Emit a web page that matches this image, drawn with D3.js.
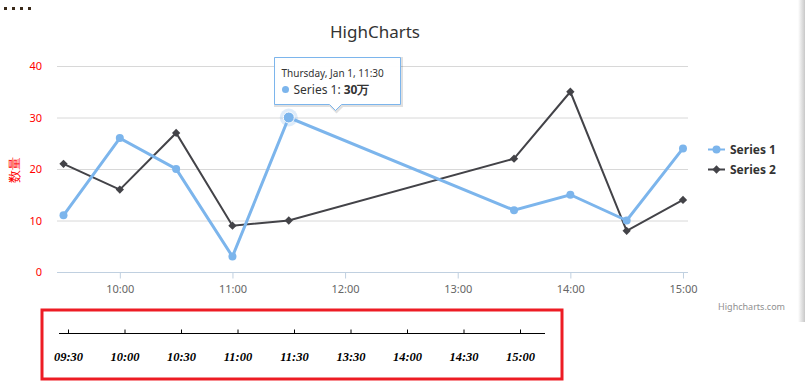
<!DOCTYPE html>
<html>
<head>
<meta charset="utf-8">
<script src="https://cdn.jsdelivr.net/npm/d3@7"></script>
<style>
body { margin: 0; background: #fff; }
svg { display: block; }
</style>
</head>
<body>
<div id="chart"></div>
<script>
// chart data
var times = ['09:30', '10:00', '10:30', '11:00', '11:30', '13:30', '14:00', '14:30', '15:00'];
var series1 = [11, 26, 20, 3, 30, 12, 15, 10, 24];
var series2 = [21, 16, 27, 9, 10, 22, 35, 8, 14];
var xTicks = ['10:00', '11:00', '12:00', '13:00', '14:00', '15:00'];
var yTicks = [0, 10, 20, 30, 40];
var bottomLabels = ['09:30', '10:00', '10:30', '11:00', '11:30', '13:30', '14:00', '14:30', '15:00'];

var font = '"Noto Sans", "DejaVu Sans", sans-serif';
var W = 805, H = 385;
var parse = d3.timeParse('%H:%M');

var svg = d3.select('#chart').append('svg')
	.attr('width', W)
	.attr('height', H)
	.style('font-family', font);

// dots in top left corner
svg.selectAll('.dot').data([0, 1, 2, 3]).enter().append('rect')
	.attr('x', function(d) { return 4 + d * 8; })
	.attr('y', 7)
	.attr('width', 3)
	.attr('height', 3)
	.attr('fill', '#3a2a1a');

// right edge shade
var grad = svg.append('defs').append('linearGradient').attr('id', 'edge');
grad.append('stop').attr('offset', '0%').attr('stop-color', '#fff');
grad.append('stop').attr('offset', '100%').attr('stop-color', '#c8c8c8');
svg.append('rect').attr('x', 798).attr('y', 0).attr('width', 7).attr('height', 322).attr('fill', 'url(#edge)');

var margin = {left: 57, right: 688, top: 66, bottom: 272};

// Set ranges (with a little padding either side of the data)
var t0 = parse(times[0]), t1 = parse(times[times.length - 1]);
var span = t1 - t0;
var x = d3.scaleTime()
	.domain([new Date(+t0 - span * 0.0105), new Date(+t1 + span * 0.0081)])
	.range([margin.left, margin.right]);
var y = d3.scaleLinear()
	.domain([0, 40])
	.range([margin.bottom, margin.top]);

// title
svg.append('text')
	.attr('x', 375).attr('y', 38)
	.attr('text-anchor', 'middle')
	.attr('font-size', 17)
	.attr('fill', '#333')
	.text('HighCharts');

// y grid
svg.append('g')
	.selectAll('line').data(yTicks.slice(1)).enter().append('line')
	.attr('x1', margin.left).attr('x2', margin.right)
	.attr('y1', function(d) { return y(d) + 0.5; })
	.attr('y2', function(d) { return y(d) + 0.5; })
	.attr('stroke', '#d8d8d8');

// y labels
svg.append('g')
	.selectAll('text').data(yTicks).enter().append('text')
	.attr('x', 42)
	.attr('y', function(d) { return y(d) + 4; })
	.attr('text-anchor', 'end')
	.attr('font-size', 11)
	.attr('fill', 'red')
	.text(function(d) { return d; });

svg.append('text')
	.attr('transform', 'translate(19,170) rotate(-90)')
	.attr('text-anchor', 'middle')
	.attr('font-size', 13)
	.attr('fill', 'red')
	.text('数量');

// x axis
var xAxis = svg.append('g')
	.attr('transform', 'translate(0,' + (margin.bottom + 0.5) + ')')
	.call(d3.axisBottom(x)
		.tickValues(xTicks.map(parse))
		.tickFormat(d3.timeFormat('%H:%M'))
		.tickSize(6)
		.tickSizeOuter(0));
xAxis.select('.domain').attr('stroke', '#c0d0e0').attr('d', 'M' + margin.left + ',0H' + margin.right);
xAxis.selectAll('.tick line').attr('stroke', '#c0d0e0');
xAxis.selectAll('.tick text')
	.attr('font-family', font)
	.attr('font-size', 11)
	.attr('fill', '#666')
	.attr('dy', '1.0em');

// lines
var pts1 = times.map(function(t, i) { return {date: parse(t), value: series1[i]}; });
var pts2 = times.map(function(t, i) { return {date: parse(t), value: series2[i]}; });
var line = d3.line()
	.x(function(d) { return x(d.date); })
	.y(function(d) { return y(d.value); });

svg.append('path').datum(pts2)
	.attr('d', line).attr('fill', 'none')
	.attr('stroke', '#434348').attr('stroke-width', 2);
svg.append('path').datum(pts1)
	.attr('d', line).attr('fill', 'none')
	.attr('stroke', '#7cb5ec').attr('stroke-width', 3);

var diamond = d3.symbol().type(d3.symbolDiamond2).size(44);
svg.append('g').selectAll('path').data(pts2).enter().append('path')
	.attr('transform', function(d) { return 'translate(' + x(d.date) + ',' + y(d.value) + ')'; })
	.attr('d', diamond)
	.attr('fill', '#434348');

svg.append('g').selectAll('circle').data(pts1).enter().append('circle')
	.attr('cx', function(d) { return x(d.date); })
	.attr('cy', function(d) { return y(d.value); })
	.attr('r', 4)
	.attr('fill', '#7cb5ec');

// hovered point
var hp = pts1[4];
svg.append('circle')
	.attr('cx', x(hp.date)).attr('cy', y(hp.value))
	.attr('r', 9).attr('fill', '#7cb5ec').attr('opacity', 0.25);
svg.append('circle')
	.attr('cx', x(hp.date)).attr('cy', y(hp.value))
	.attr('r', 5.5).attr('fill', '#7cb5ec').attr('stroke', '#fff').attr('stroke-width', 1);

// tooltip
var tip = svg.append('g').attr('transform', 'translate(274.5,57.5)');
var tipPath = 'M0,0H126V47H67L61,53L55,47H0Z';
tip.append('path').attr('d', tipPath).attr('transform', 'translate(1,1)')
	.attr('fill', 'none').attr('stroke', '#000').attr('stroke-opacity', 0.12).attr('stroke-width', 3);
tip.append('path').attr('d', tipPath)
	.attr('fill', 'rgba(255,255,255,0.96)').attr('stroke', '#7cb5ec').attr('stroke-width', 1);
tip.append('text').attr('x', 7).attr('y', 19)
	.attr('font-size', 10).attr('fill', '#333')
	.text('Thursday, Jan 1, ' + times[4]);
tip.append('circle').attr('cx', 11).attr('cy', 32).attr('r', 3.5).attr('fill', '#7cb5ec');
var tt = tip.append('text').attr('x', 19).attr('y', 36)
	.attr('font-size', 12).attr('fill', '#333');
tt.append('tspan').text('Series 1: ');
tt.append('tspan').attr('font-weight', 'bold').text(series1[4] + '万');

// legend
var legend = svg.append('g').attr('transform', 'translate(708,149)');
[['Series 1', '#7cb5ec', 'circle'], ['Series 2', '#434348', 'diamond']].forEach(function(s, i) {
	var g = legend.append('g').attr('transform', 'translate(0,' + (i * 20) + ')');
	g.append('line').attr('x1', 0).attr('x2', 17).attr('y1', 0.5).attr('y2', 0.5)
		.attr('stroke', s[1]).attr('stroke-width', 2);
	if (s[2] === 'circle') {
		g.append('circle').attr('cx', 8.5).attr('cy', 0.5).attr('r', 4).attr('fill', s[1]);
	} else {
		g.append('path').attr('transform', 'translate(8.5,0.5)').attr('d', diamond).attr('fill', s[1]);
	}
	g.append('text').attr('x', 22).attr('y', 4.5)
		.attr('font-size', 12).attr('font-weight', 'bold').attr('fill', '#333')
		.text(s[0]);
});

// credit
svg.append('text')
	.attr('x', 785).attr('y', 310)
	.attr('text-anchor', 'end')
	.attr('font-size', 9).attr('fill', '#909090')
	.text('Highcharts.com');

// bottom box with second axis
svg.append('rect')
	.attr('x', 42).attr('y', 310).attr('width', 520).attr('height', 69)
	.attr('fill', 'none').attr('stroke', '#ed1c24').attr('stroke-width', 3);

var bx = d3.scalePoint().domain(bottomLabels).range([68, 520]);
var bAxis = svg.append('g').attr('transform', 'translate(0,333.5)')
	.call(d3.axisBottom(bx).tickSize(-4).tickSizeOuter(0).tickPadding(19));
bAxis.select('.domain').attr('stroke', '#000').attr('d', 'M59,0H545');
bAxis.selectAll('.tick line').attr('stroke', '#000').attr('y1', -4).attr('y2', 0);
bAxis.selectAll('.tick text')
	.attr('font-family', '"Liberation Serif", serif')
	.attr('font-size', 12.5)
	.attr('font-weight', 'bold')
	.attr('font-style', 'italic')
	.attr('fill', '#000');
</script>
</body>
</html>
